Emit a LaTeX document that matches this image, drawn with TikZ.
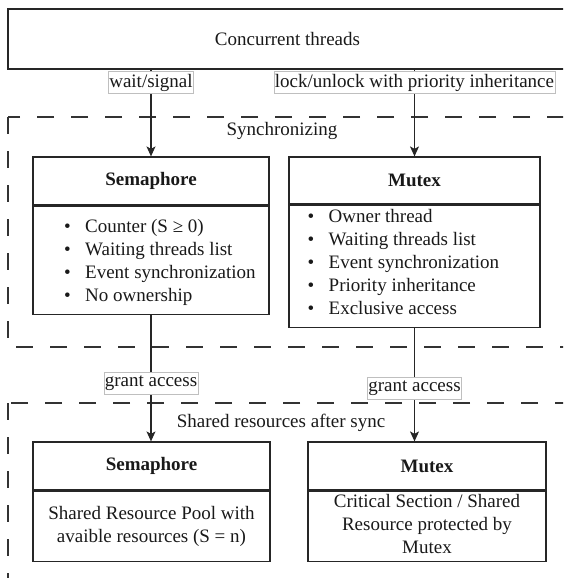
\documentclass[tikz,border=0pt]{standalone}
\usepackage{fontspec}
\setmainfont{Liberation Serif}
\usetikzlibrary{arrows.meta}
% bullet followed by a fixed gap before the item text
\newcommand\itembullet{\makebox[21pt][l]{•}}
\begin{document}
\begin{tikzpicture}[x=1pt,y=-1pt,
  font=\fontsize{19}{23}\selectfont,
  every node/.style={text=black!90},
  box/.style={draw=black!85, line width=1.2pt, inner sep=0pt},
  region/.style={draw=black!80, line width=1.2pt, dash pattern=on 17pt off 17pt},
  lbl/.style={fill=white, draw=black!25, line width=0.6pt, inner xsep=1pt, inner ysep=0pt, minimum height=22pt},
  flow/.style={draw=black!85, line width=1.1pt, -{Stealth[length=10pt,width=9pt,inset=2.5pt]}},
  ]
\useasboundingbox (0,0) rectangle (563,578);
\clip (0,0) rectangle (563,578);

% source of all requests
\node[box, minimum width=559pt, minimum height=60pt] (threads) at (287.5,39) {Concurrent threads};

% dashed groups
\draw[region] (8,117) rectangle (600,347);
\node (syncTitle) at (282,131) {Synchronizing};
\draw[region] (8,403) rectangle (600,620);
\node (sharedTitle) at (281,423) {Shared resources after sync};

% synchronizing primitives
\node[box, minimum width=236pt, minimum height=48pt] (semHead) at (151,181) {\bfseries Semaphore};
\node[box, minimum width=236pt, minimum height=108pt, anchor=north] (semBody) at (semHead.south) {};
\node[anchor=west, align=left, inner sep=0pt] (semList) at (64,262)
  {\strut\itembullet Counter (S ≥ 0)\\
   \strut\itembullet Waiting threads list\\
   \strut\itembullet Event synchronization\\
   \strut\itembullet No ownership};

\node[box, minimum width=251pt, minimum height=47pt] (mutexHead) at (414.5,180.5) {\bfseries Mutex};
\node[box, minimum width=251pt, minimum height=122pt, anchor=north] (mutexBody) at (mutexHead.south) {};
\node[anchor=west, align=left, inner sep=0pt] (mutexList) at (307.5,264)
  {\strut\itembullet Owner thread\\
   \strut\itembullet Waiting threads list\\
   \strut\itembullet Event synchronization\\
   \strut\itembullet Priority inheritance\\
   \strut\itembullet Exclusive access};

% protected resources
\node[box, minimum width=237pt, minimum height=48pt] (semResHead) at (151.5,466) {\bfseries Semaphore};
\node[box, minimum width=237pt, minimum height=70pt, anchor=north, align=center] (semResBody) at (semResHead.south)
  {\strut Shared Resource Pool with\\ \strut avaible resources (S = n)};

\node[box, minimum width=238pt, minimum height=48pt] (mutexResHead) at (427,466) {\bfseries Mutex};
\node[box, minimum width=238pt, minimum height=70pt, anchor=north, align=center] (mutexResBody) at (mutexResHead.south)
  {\strut Critical Section / Shared\\ \strut Resource protected by\\ \strut Mutex};

% connectors
\draw[flow] (threads.south -| semHead.north) -- node[lbl, pos=0.15] (waitLbl) {wait/signal} (semHead.north);
\draw[flow] (threads.south -| mutexHead.north) -- node[lbl, pos=0.15] (lockLbl) {lock/unlock with priority inheritance} (mutexHead.north);
\draw[flow] (semBody.south) -- node[lbl, pos=0.54] (grantSem) {grant access} (semBody.south |- semResHead.north);
\draw[flow] (mutexBody.south) -- node[lbl, pos=0.535] (grantMutex) {grant access} (mutexBody.south |- mutexResHead.north);
\end{tikzpicture}
\end{document}
